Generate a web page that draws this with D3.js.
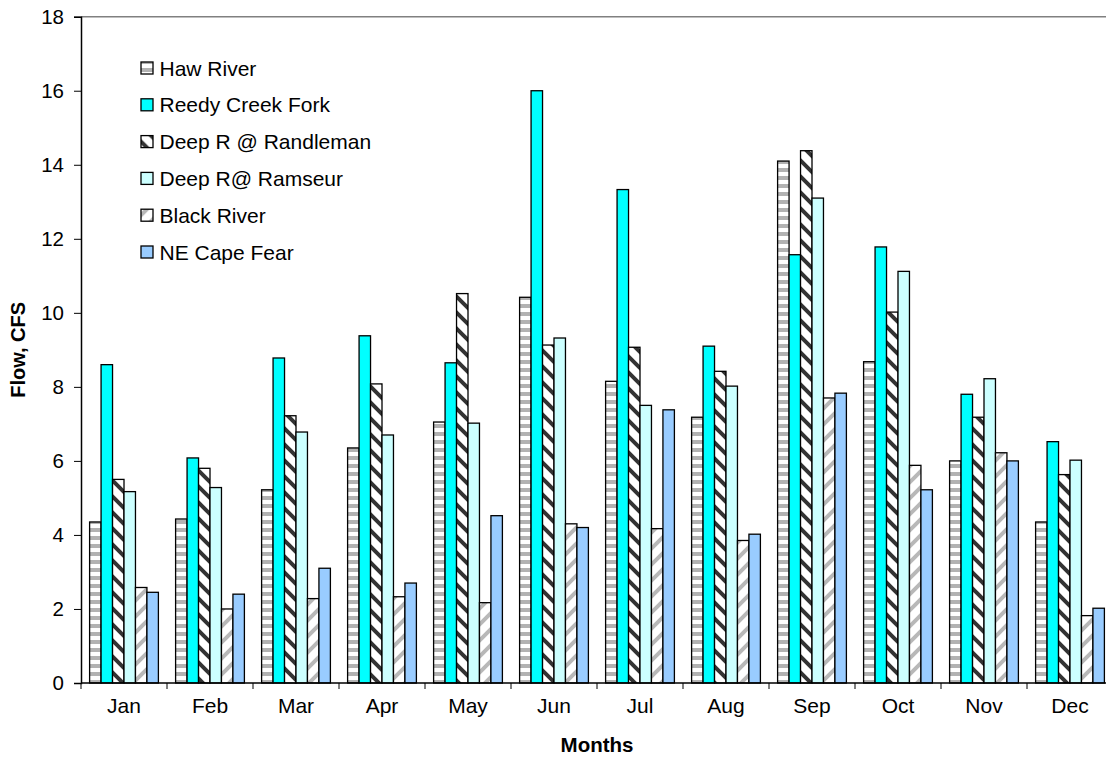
<!DOCTYPE html>
<html>
<head>
<meta charset="utf-8">
<script src="https://cdn.jsdelivr.net/npm/d3@7"></script>
<style>
  html, body { margin: 0; padding: 0; background: #fff; }
  svg { display: block; font-family: "Liberation Sans", Arial, sans-serif; }
</style>
</head>
<body>
<svg id="chart" width="1106" height="761"></svg>
<script>
// Monthly mean flow (CFS) at six gauging stations
const months = ["Jan","Feb","Mar","Apr","May","Jun","Jul","Aug","Sep","Oct","Nov","Dec"];
const seriesNames = ["Haw River","Reedy Creek Fork","Deep R  @ Randleman","Deep R@ Ramseur","Black River","NE Cape Fear"];
const hawRiver      = [4.35, 4.43, 5.22, 6.35, 7.05, 10.42, 8.15, 7.18, 14.10, 8.68, 6.00, 4.35];
const reedyCreek    = [8.60, 6.08, 8.78, 9.38, 8.65, 16.00, 13.33, 9.10, 11.57, 11.78, 7.80, 6.52];
const deepRandleman = [5.50, 5.80, 7.22, 8.08, 10.52, 9.13, 9.07, 8.42, 14.38, 10.02, 7.18, 5.63];
const deepRamseur   = [5.17, 5.28, 6.78, 6.70, 7.02, 9.32, 7.50, 8.02, 13.10, 11.12, 8.22, 6.02];
const blackRiver    = [2.58, 2.00, 2.28, 2.33, 2.17, 4.30, 4.17, 3.85, 7.70, 5.88, 6.22, 1.82];
const neCapeFear    = [2.45, 2.40, 3.10, 2.70, 4.52, 4.20, 7.38, 4.02, 7.83, 5.22, 6.00, 2.02];
const yTicks = [0, 2, 4, 6, 8, 10, 12, 14, 16, 18];

const allSeries = [hawRiver, reedyCreek, deepRandleman, deepRamseur, blackRiver, neCapeFear];
const fills = ["url(#pHaw)", "#00FFFF", "url(#pRand)", "#CCFFFF", "url(#pBlack)", "#99CCFF"];

const svg = d3.select("#chart");
const plotLeft = 81, plotRight = 1113, plotTop = 16.7, plotBottom = 683;

// Fill patterns
const defs = svg.append("defs");
const pHaw = defs.append("pattern").attr("id", "pHaw").attr("patternUnits", "userSpaceOnUse")
  .attr("width", 8).attr("height", 8);
pHaw.append("rect").attr("width", 8).attr("height", 8).attr("fill", "#fff");
pHaw.append("rect").attr("y", 0).attr("width", 8).attr("height", 4).attr("fill", "#b2b2b2");

const pRand = defs.append("pattern").attr("id", "pRand").attr("patternUnits", "userSpaceOnUse")
  .attr("width", 16).attr("height", 16);
pRand.append("rect").attr("width", 16).attr("height", 16).attr("fill", "#fff");
pRand.append("path").attr("d", "M-4,-4 L20,20 M-4,12 L4,20 M12,-4 L20,4")
  .attr("stroke", "#333").attr("stroke-width", 4);

const pBlack = defs.append("pattern").attr("id", "pBlack").attr("patternUnits", "userSpaceOnUse")
  .attr("width", 16).attr("height", 16);
pBlack.append("rect").attr("width", 16).attr("height", 16).attr("fill", "#fff");
pBlack.append("path").attr("d", "M-4,20 L20,-4 M-4,4 L4,-4 M12,20 L20,12")
  .attr("stroke", "#b8b8b8").attr("stroke-width", 4);

const x0 = d3.scaleBand().domain(months).range([plotLeft, plotRight]).paddingInner(0.2).paddingOuter(0.1);
const x1 = d3.scaleBand().domain(d3.range(allSeries.length)).range([0, x0.bandwidth()]);
const y = d3.scaleLinear().domain([0, 18]).range([plotBottom, plotTop]);

// Plot-area top border
svg.append("line").attr("x1", plotLeft).attr("x2", plotRight).attr("y1", plotTop).attr("y2", plotTop)
  .attr("stroke", "#808080").attr("stroke-width", 1.5);

// Bars
allSeries.forEach((vals, si) => {
  svg.append("g").selectAll("rect").data(vals).join("rect")
    .attr("x", (d, i) => x0(months[i]) + x1(si))
    .attr("y", d => y(d))
    .attr("width", x1.bandwidth())
    .attr("height", d => y(0) - y(d))
    .attr("fill", fills[si])
    .attr("stroke", "#000").attr("stroke-width", 1.3);
});

// Y axis
const yAxis = d3.axisLeft(y).tickValues(yTicks).tickSize(7).tickPadding(10).tickFormat(d3.format("d"));
const gy = svg.append("g").attr("transform", `translate(${plotLeft},0)`).call(yAxis);
gy.select(".domain").attr("stroke", "#000").attr("stroke-width", 1.5);
gy.selectAll(".tick line").attr("stroke", "#000");
gy.selectAll("text").attr("font-size", 20.5).attr("font-family", "Liberation Sans, Arial, sans-serif").attr("fill", "#000");

// X axis with ticks at category boundaries
const gx = svg.append("g").attr("transform", `translate(0,${plotBottom})`);
gx.append("line").attr("x1", plotLeft).attr("x2", plotRight).attr("stroke", "#000").attr("stroke-width", 1.5);
const step = x0.step();
gx.selectAll(".bt").data(d3.range(months.length + 1)).join("line")
  .attr("x1", i => plotLeft + i * step).attr("x2", i => plotLeft + i * step)
  .attr("y1", 0).attr("y2", 6).attr("stroke", "#000");
gx.selectAll(".ml").data(months).join("text")
  .attr("x", d => x0(d) + x0.bandwidth() / 2).attr("y", 29.5)
  .attr("text-anchor", "middle").attr("font-size", 21).text(d => d);

// Axis titles
svg.append("text").attr("x", (plotLeft + plotRight) / 2).attr("y", 752).attr("text-anchor", "middle")
  .attr("font-weight", "bold").attr("font-size", 20.5).text("Months");
svg.append("text").attr("transform", `translate(25,${(plotTop + plotBottom) / 2}) rotate(-90)`)
  .attr("text-anchor", "middle").attr("font-weight", "bold").attr("font-size", 20).text("Flow, CFS");

// Legend
const lg = svg.append("g").attr("transform", "translate(141,68)");
seriesNames.forEach((name, i) => {
  const row = lg.append("g").attr("transform", `translate(0,${i * 36.8})`);
  row.append("rect").attr("x", 0).attr("y", -6).attr("width", 12).attr("height", 12)
    .attr("fill", fills[i]).attr("stroke", "#000").attr("stroke-width", 1.3);
  row.append("text").attr("x", 18.5).attr("y", 7.5).attr("font-size", 21).text(name);
});
</script>
</body>
</html>
